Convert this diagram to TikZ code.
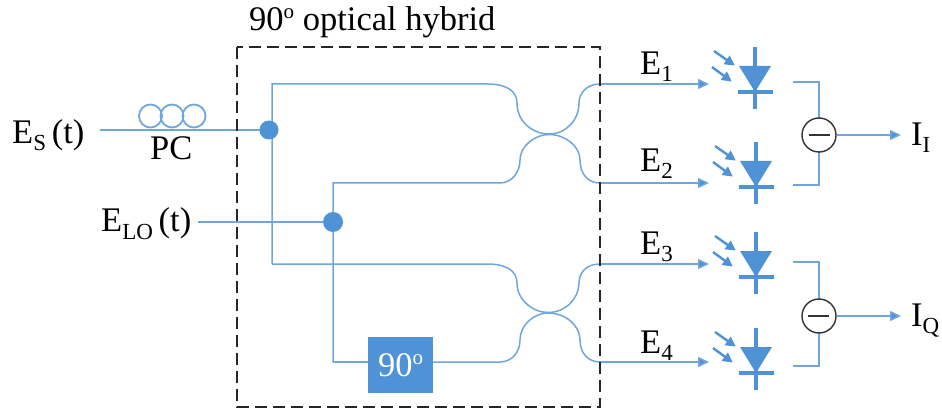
\documentclass[tikz,border=0pt]{standalone}
\usepackage{fontspec}
\setmainfont{Liberation Serif}
\usetikzlibrary{arrows.meta}
\definecolor{fibre}{HTML}{6FA6DC}
\definecolor{pdblue}{HTML}{4F92D6}
\newcommand{\bigtxt}{\fontsize{34.5}{38}\selectfont}
\newcommand{\lowtxt}[1]{\raisebox{-7pt}{\fontsize{23}{26}\selectfont #1}}
\newcommand{\hightxt}[1]{\raisebox{12pt}{\fontsize{21}{24}\selectfont #1}}
\tikzset{
  fibreline/.style={draw=fibre,line width=1.5pt},
  fibrearrow/.style={fibreline,-{Triangle[length=11pt,width=10pt,fill=pdblue]}},
  lightarrow/.style={draw=pdblue,line width=2.4pt,-{Triangle[length=10pt,width=10pt,fill=pdblue]},shorten >=-1pt},
  dot/.style={circle,fill=pdblue,inner sep=0pt},
  label/.style={inner sep=0pt,anchor=base west,text=black,font=\bigtxt},
  pccoil/.style={circle,draw=fibre,line width=1.8pt,minimum size=23pt,inner sep=0pt},
  sub/.style={circle,draw=black!80,line width=1.4pt,fill=white,minimum size=34pt,inner sep=0pt},
  diode/.pic={
    \draw[draw=pdblue,line width=4pt] (0,-19) -- (0,43);
    \fill[pdblue] (-16,0) -- (16,0) -- (0,26) -- cycle;
    \draw[draw=pdblue,line width=4pt] (-17,26) -- (18,26);
    \draw[lightarrow] (-41,-15) -- (-21,-1);
    \draw[lightarrow] (-43,1) -- (-24,15);
  }
}
\begin{document}
\begin{tikzpicture}[x=1pt,y=-1pt]
\useasboundingbox (0,0) rectangle (942,414);
\fill[white] (0,0) rectangle (942,414);
% labels
\node[label] (title) at (249,31) {90\hightxt{o} optical hybrid};
\node[label] (es) at (12,144) {E\lowtxt{S}\,(t)};
\node[label] (elo) at (101,232) {E\lowtxt{LO}\,(t)};
\node[label] (pc) at (150,160) {PC};
\node[label] (e1) at (640,75) {E\lowtxt{1}};
\node[label] (e2) at (640,172) {E\lowtxt{2}};
\node[label] (e3) at (640,254) {E\lowtxt{3}};
\node[label] (e4) at (640,353) {E\lowtxt{4}};
\node[label] (ii) at (911,146) {I\lowtxt{I}};
\node[label] (iq) at (911,326) {I\lowtxt{Q}};
% named points
\coordinate (dc1) at (269,130);
\coordinate (dc2) at (333,222);
\coordinate (esin) at (100,130);
\coordinate (loin) at (198,222);
\coordinate (top) at (272,84);
\coordinate (low) at (272,264);
\coordinate (c2) at (333,183);
\coordinate (c4) at (333,362);
\node[rectangle,fill=pdblue,minimum width=65pt,minimum height=56pt,inner sep=0pt,text=white,font=\bigtxt] (shift) at (400.5,365) {90\hightxt{o}};
% polarisation controller
\node[pccoil] (p1) at (150.5,116) {};
\node[pccoil] (p2) at (172,116) {};
\node[pccoil] (p3) at (194,116) {};
% fibres
\draw[fibreline] (esin) -- (dc1);
\draw[fibreline] (loin) -- (dc2);
\draw[fibreline] (low) -- (top) -- (487,84)
  .. controls (505,84) and (517,90) .. (517,103)
  .. controls (517,122) and (533,134) .. (549,134)
  .. controls (566,134) and (579,120) .. (579,103)
  .. controls (579,93) and (587,84) .. (600,84);
\draw[fibreline] (c4) -- (c2) -- (500,183)
  .. controls (512,183) and (520,172) .. (520,160)
  .. controls (520,146) and (535,134.5) .. (549,134.5)
  .. controls (565,134.5) and (580,146) .. (580,160)
  .. controls (580,174) and (588,183) .. (600,183);
\draw[fibreline] (low) -- (487,264)
  .. controls (505,264) and (517,270) .. (517,283)
  .. controls (517,300) and (533,312.5) .. (548,312.5)
  .. controls (566,312.5) and (579,298) .. (579,283)
  .. controls (579,272) and (587,264) .. (600,264);
\draw[fibreline] (c4) -- (shift.west |- c4);
\draw[fibreline] (shift.east |- c4) -- (500,362)
  .. controls (512,362) and (520,352) .. (520,340)
  .. controls (520,325) and (534,313) .. (548,313)
  .. controls (565,313) and (580,325) .. (580,340)
  .. controls (580,353) and (588,362) .. (600,362);
\node[dot,minimum size=19pt] (d1) at (dc1) {};
\node[dot,minimum size=20pt] (d2) at (dc2) {};
\coordinate (o1) at (600,84);
\coordinate (o2) at (600,183);
\coordinate (o3) at (600,264);
\coordinate (o4) at (600,362);
\coordinate (t1) at (709,84);
\coordinate (t2) at (709,183);
\coordinate (t3) at (709,264);
\coordinate (t4) at (709,362);
\draw[fibrearrow] (o1) -- (t1);
\draw[fibrearrow] (o2) -- (t2);
\draw[fibrearrow] (o3) -- (t3);
\draw[fibrearrow] (o4) -- (t4);
% hybrid frame
\draw[black!85,line width=2pt,dash pattern=on 12pt off 6pt] (237,47) rectangle (600,407);
% detectors
\pic at (755,66) {diode};
\pic at (756,161) {diode};
\pic at (756,251) {diode};
\pic at (756,347) {diode};
% balanced subtractors
\coordinate (a1) at (793,82);
\coordinate (a2) at (793,185);
\coordinate (b1) at (793,262);
\coordinate (b2) at (793,366);
\coordinate (mc1) at (819,135);
\coordinate (mc2) at (819,316);
\draw[fibreline] (a1) -- (a1 -| mc1) -- (mc1);
\draw[fibreline] (a2) -- (a2 -| mc1) -- (mc1);
\draw[fibreline] (b1) -- (b1 -| mc2) -- (mc2);
\draw[fibreline] (b2) -- (b2 -| mc2) -- (mc2);
\node[sub] (m1) at (mc1) {};
\node[sub] (m2) at (mc2) {};
\draw[black!80,line width=1.6pt] (809,135) -- (830,135);
\draw[black!80,line width=1.6pt] (808,316) -- (829,316);
\coordinate (i1) at (901,135);
\coordinate (i2) at (901,316);
\draw[fibrearrow] (m1) -- (i1);
\draw[fibrearrow] (m2) -- (i2);
\end{tikzpicture}
\end{document}
